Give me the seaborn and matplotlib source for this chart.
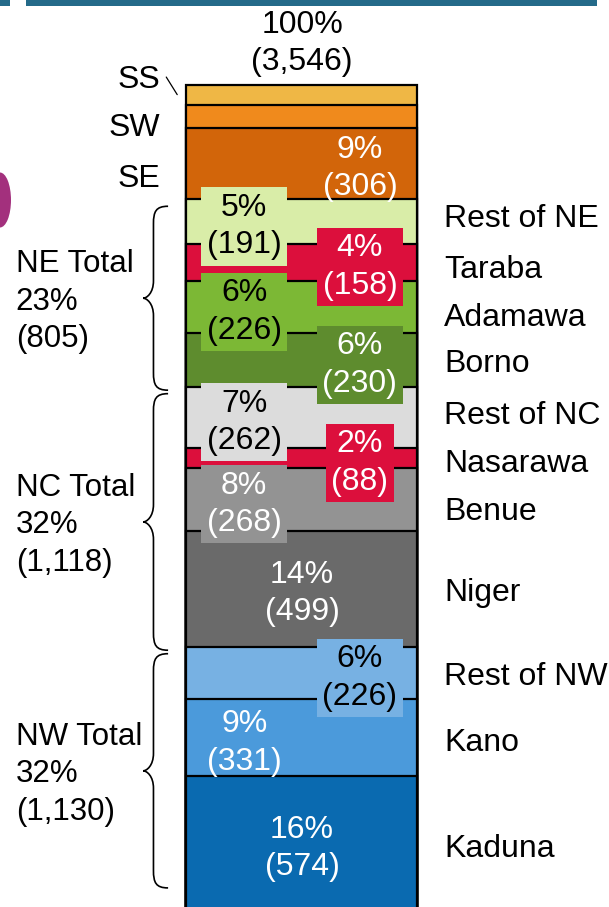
import numpy as np
import matplotlib
matplotlib.use("Agg")
import matplotlib.pyplot as plt
import matplotlib.transforms as mtransforms
from matplotlib.path import Path
from matplotlib.patches import PathPatch, Rectangle, Ellipse
import seaborn as sns

# data, top of the bar first
regions = ["SS", "SW", "SE", "Rest of NE", "Taraba", "Adamawa", "Borno",
           "Rest of NC", "Nasarawa", "Benue", "Niger",
           "Rest of NW", "Kano", "Kaduna"]
values = [87, 100, 306, 191, 158, 226, 230, 262, 88, 268, 499, 226, 331, 574]
total = 3546

groups = ["NE", "NC", "NW"]
group_totals = [805, 1118, 1130]
group_members = [["Rest of NE", "Taraba", "Adamawa", "Borno"],
                 ["Rest of NC", "Nasarawa", "Benue", "Niger"],
                 ["Rest of NW", "Kano", "Kaduna"]]

# styling
colors = ["#EFB745", "#F08A1C", "#D2650A", "#D9EDA8", "#DC0F3C", "#7CB835",
          "#5E8C2E", "#DCDCDC", "#DC0F3C", "#939393", "#6A6A6A",
          "#77B1E3", "#4B9ADB", "#0A6AB0"]
label_col = [None, None, "R", "L", "R", "L", "R", "L", "R", "L", "C", "R", "L", "C"]
label_txt = ["k", "k", "w", "k", "w", "k", "w", "k", "w", "w", "w", "k", "w", "w"]
label_box = [False, False, False, True, True, True, True, True, True, True,
             False, True, False, False]
col_x = {"L": 0.401, "R": 0.591, "C": 0.496}
# vertical nudge (px, downwards) of the region names on the right
name_nudge = [0, 0, 0, -3, 8, 11, 4, -1, 6, 13, 4, 4, 5, 6]

plt.rcParams["font.family"] = ["Liberation Sans", "DejaVu Sans"]
FS = 23
LS = 1.32
PX = 72 / 100  # points per pixel
DOWN = -5 * PX

fig = plt.figure(figsize=(6.09, 9.07), dpi=100)
ax = fig.add_axes([0, 0, 1, 1])

# stacked bar: draw cumulative heights, tallest first
tops = total - np.concatenate([[0], np.cumsum(values)[:-1]])
bottoms = tops - np.array(values)
for top, c in zip(tops, colors):
    sns.barplot(x=["all"], y=[top], color=c, saturation=1, width=0.8,
                edgecolor="black", linewidth=1.6, errorbar=None, ax=ax)

ax.set_xlim(-1.044, 1.065)
ax.set_ylim(13, 3909)
ax.axis("off")

blend = mtransforms.blended_transform_factory(ax.transAxes, ax.transData)
mids = (tops + bottoms) / 2

# segment labels
for i, r in enumerate(regions):
    if label_col[i] is None:
        continue
    pct = round(values[i] / total * 100)
    tc = "white" if label_txt[i] == "w" else "black"
    bbox = None
    if label_box[i]:
        bbox = dict(boxstyle="square,pad=0.17", fc=colors[i], ec="none")
    ax.annotate(f"{pct}%\n({values[i]:,})", xy=(col_x[label_col[i]], mids[i]),
                xycoords=blend, xytext=(0, DOWN), textcoords="offset points",
                ha="center", va="center", fontsize=FS, color=tc,
                linespacing=LS, bbox=bbox, zorder=5)

# region names on the right
for i, r in enumerate(regions[3:], start=3):
    ax.annotate(r, xy=(0.729, mids[i]), xycoords=blend,
                xytext=(0, -name_nudge[i] * PX),
                textcoords="offset points", ha="left", va="center",
                fontsize=FS, color="black")

# SS / SW / SE on the left
ax.annotate("SW", xy=(0.263, mids[1]), xycoords=blend, xytext=(0, -12 * PX),
            textcoords="offset points", ha="right", va="center", fontsize=FS)
ax.annotate("SE", xy=(0.263, mids[2]), xycoords=blend, xytext=(0, -15 * PX),
            textcoords="offset points", ha="right", va="center", fontsize=FS)
ax.annotate("SS", xy=(0.263, total), xycoords=blend, xytext=(0, 5 * PX),
            textcoords="offset points", ha="right", va="center", fontsize=FS)
ax.annotate("", xy=(0.291, mids[0]), xycoords=blend,
            xytext=(0.273, total + 32), textcoords=blend,
            arrowprops=dict(arrowstyle="-", lw=0.9, color="black",
                            shrinkA=0, shrinkB=0))

# total on top
ax.annotate(f"100%\n({total:,})", xy=(0.496, total), xycoords=blend,
            xytext=(0, 4 + 2 * PX), textcoords="offset points", ha="center",
            va="bottom", fontsize=FS, linespacing=LS)


def brace(y_top, y_bot, xt=0.235, xs=0.252, xe=0.276, h=75):
    ym = (y_top + y_bot) / 2
    verts = [(xe, y_top),
             (xs + 0.004, y_top), (xs, y_top - h * 0.3), (xs, y_top - h),
             (xs, ym + h),
             (xs, ym + h * 0.3), (xt + 0.006, ym), (xt, ym),
             (xt + 0.006, ym), (xs, ym - h * 0.3), (xs, ym - h),
             (xs, y_bot + h),
             (xs, y_bot + h * 0.3), (xs + 0.004, y_bot), (xe, y_bot)]
    codes = [Path.MOVETO,
             Path.CURVE4, Path.CURVE4, Path.CURVE4,
             Path.LINETO,
             Path.CURVE4, Path.CURVE4, Path.CURVE4,
             Path.CURVE4, Path.CURVE4, Path.CURVE4,
             Path.LINETO,
             Path.CURVE4, Path.CURVE4, Path.CURVE4]
    ax.add_patch(PathPatch(Path(verts, codes), fc="none", ec="black",
                           lw=1.2, transform=blend))
    return ym


for g, gt, members in zip(groups, group_totals, group_members):
    idx = [regions.index(m) for m in members]
    g_top = tops[idx[0]]
    g_bot = bottoms[idx[-1]]
    ym = brace(g_top - 30, max(g_bot - 15, 95))
    pct = round(gt / total * 100)
    ax.annotate(f"{g} Total\n{pct}%\n({gt:,})", xy=(0.026, ym),
                xycoords=blend, xytext=(0, -3.5 * PX), textcoords="offset points",
                ha="left", va="center", fontsize=FS - 0.5, linespacing=LS)

# slide decoration: top rule and clipped picture at the left edge
fig.add_artist(Rectangle((26 / 609, 1 - 6 / 907), 571 / 609, 6 / 907,
                         transform=fig.transFigure, color="#246A89", lw=0))
fig.add_artist(Rectangle((0, 1 - 6 / 907), 10 / 609, 6 / 907,
                         transform=fig.transFigure, color="#246A89", lw=0))
fig.add_artist(Ellipse((0, 1 - 200 / 907), 22 / 609, 55 / 907,
                       transform=fig.transFigure, color="#A3307D", lw=0))

fig.savefig("out.png", dpi=100)
